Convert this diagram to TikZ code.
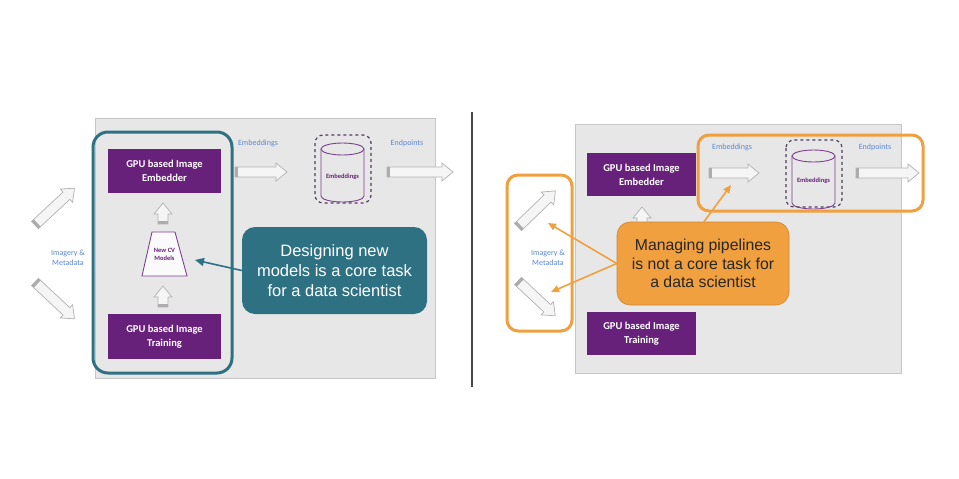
\documentclass[tikz,border=0pt]{standalone}
\usepackage{fontspec}
\setmainfont{Carlito}
\newfontfamily\arialfont{Liberation Sans}
\usetikzlibrary{arrows.meta,calc}
\definecolor{gpupurple}{RGB}{104,33,122}
\definecolor{cvteal}{RGB}{46,113,131}
\definecolor{pipeorange}{RGB}{240,160,62}
\definecolor{panelgray}{RGB}{231,231,231}
\definecolor{labelblue}{RGB}{92,136,210}
\definecolor{cylpurple}{RGB}{125,65,145}
\definecolor{dashpurple}{RGB}{80,62,95}
\tikzset{
  panel/.style={fill=panelgray,draw=gray!45,line width=0.8pt},
  gpubox/.style={fill=gpupurple,text=white,align=center,inner sep=0pt,
    font=\fontsize{10.5}{14}\selectfont\bfseries},
  smalllabel/.style={text=labelblue,align=center,inner sep=0pt,
    font=\fontsize{8}{10}\selectfont},
  cyllabel/.style={text=gpupurple,align=center,inner sep=0pt,
    font=\fontsize{6.5}{8}\selectfont\bfseries},
  cylline/.style={draw=cylpurple,line width=0.9pt},
  dashbox/.style={draw=dashpurple,dashed,line width=1.2pt,rounded corners=8pt},
  blkarrow/.style={fill=gray!8,draw=gray!60,line width=0.7pt},
  tealframe/.style={draw=cvteal,line width=3pt,rounded corners=15pt},
  orangeframe/.style={draw=pipeorange,line width=3pt,rounded corners=11pt},
  tealcallout/.style={fill=cvteal,text=white,rounded corners=13pt,align=center,
    inner sep=0pt,font=\arialfont\fontsize{16.5}{20}\selectfont},
  orangecallout/.style={fill=pipeorange,draw=pipeorange!85!black,line width=0.6pt,
    text=black!85,rounded corners=13pt,align=center,inner sep=0pt,
    font=\arialfont\fontsize{15.8}{18.5}\selectfont},
  tealarrow/.style={draw=cvteal,line width=1.6pt,-{Triangle[width=8pt,length=9pt]}},
  orangearrow/.style={draw=pipeorange,line width=1.6pt,-{Triangle[width=7pt,length=8pt]}}
}
% block arrow: start point, angle, length
\newcommand{\blockarrow}[3]{%
  \begin{scope}[shift={#1},rotate=#2]
    \draw[blkarrow] (0,5) -- ({#3-11},5) -- ({#3-11},9) -- (#3,0)
      -- ({#3-11},-9) -- ({#3-11},-5) -- (0,-5) -- cycle;
    \fill[gray!65] (0,5) rectangle (3,-5);
  \end{scope}}
% cylinder: centre of the top ellipse
\newcommand{\embcyl}[1]{%
  \begin{scope}[shift={#1}]
    \draw[cylline] (-21.5,0) -- (-21.5,47)
      arc[start angle=180,end angle=360,x radius=21.5pt,y radius=6pt] -- (21.5,0);
    \draw[cylline] (0,0) ellipse[x radius=21.5pt,y radius=6pt];
  \end{scope}}

\begin{document}
\begin{tikzpicture}[x=1pt,y=-1pt]
\useasboundingbox[fill=white] (0,0) rectangle (959,479);

% left panel
\draw[panel] (95,118) rectangle (435,378);
\draw[tealframe] (93,132) rectangle (232,373);
\node[gpubox,minimum width=113pt,minimum height=44pt] (embL) at (164.5,171) {GPU based Image\\Embedder};
\node[gpubox,minimum width=113pt,minimum height=45pt] (trainL) at (164.5,336.5) {GPU based Image\\Training};
\blockarrow{(163,224)}{90}{21}
\blockarrow{(163,307)}{90}{21}
\draw[cylline,fill=gray!4] (152,232) -- (175,232) -- (187,276) -- (142,276) -- cycle;
\node[cyllabel] (cv) at (164.5,254) {New CV\\Models};
\blockarrow{(35,225)}{43}{54}
\blockarrow{(35,282)}{-43}{54}
\node[smalllabel] (imgL) at (68,258) {Imagery \&\\Metadata};
\node[smalllabel] (embtxtL) at (258,143) {Embeddings};
\blockarrow{(235,172)}{0}{52}
\draw[dashbox] (315,135) rectangle (371,203);
\embcyl{(342.5,149)}
\node[cyllabel] (cylL) at (342.5,177) {Embeddings};
\node[smalllabel] (endL) at (407,143) {Endpoints};
\blockarrow{(387,172)}{0}{66}
\node[tealcallout,minimum width=185pt,minimum height=87pt] (dsgn) at (334.5,270.5)
  {Designing new\\models is a core task\\for a data scientist};
\coordinate (cvtip) at (195,260);
\draw[tealarrow] (dsgn.west) -- (cvtip);

% divider
\draw[black!72,line width=2.5pt] (472,112) -- (472,387);

% right panel
\draw[panel] (575,124) rectangle (901,373);
\node[gpubox,minimum width=109pt,minimum height=43pt] (embR) at (641.5,174.5) {GPU based Image\\Embedder};
\node[gpubox,minimum width=109pt,minimum height=43pt] (trainR) at (641.5,333.5) {GPU based Image\\Training};
\blockarrow{(642,230)}{90}{23}
\blockarrow{(518,227)}{44}{52}
\blockarrow{(518,281)}{-43}{51}
\node[smalllabel] (imgR) at (548,258) {Imagery \&\\Metadata};
\node[smalllabel] (embtxtR) at (732,147) {Embeddings};
\blockarrow{(709,173)}{0}{50}
\draw[dashbox] (786,140) rectangle (842,207);
\embcyl{(813.5,156)}
\node[cyllabel] (cylR) at (813.5,181) {Embeddings};
\node[smalllabel] (endR) at (875,147) {Endpoints};
\blockarrow{(856,173)}{0}{63}
\draw[orangeframe] (507,175) rectangle (572,331);
\draw[orangeframe] (698,135) rectangle (923,211);
\node[orangecallout,minimum width=172pt,minimum height=83pt] (mng) at (703,263.5)
  {Managing pipelines\\is not a core task for\\a data scientist};
\coordinate (uptip) at (548,223);
\coordinate (downtip) at (551,292);
\coordinate (embtip) at (731,185);
\draw[orangearrow] (mng.west) -- (uptip);
\draw[orangearrow] (mng.west) -- (downtip);
\draw[orangearrow] ($(mng.north)+(1,0)$) -- (embtip);
\end{tikzpicture}
\end{document}
